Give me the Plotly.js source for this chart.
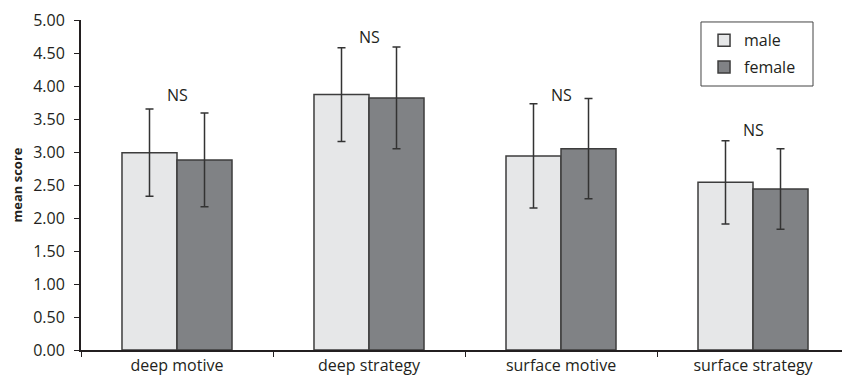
<!DOCTYPE html>
<html>
<head>
<meta charset="utf-8">
<script src="https://cdn.plot.ly/plotly-3.0.1.min.js"></script>
<style>html,body{margin:0;padding:0;background:#fff;}#chart{width:842px;height:375px;}</style>
</head>
<body>
<div id="chart"></div>
<script>
const categories = ["deep motive", "deep strategy", "surface motive", "surface strategy"];
const maleMeans = [2.99, 3.87, 2.94, 2.54];
const maleSD = [0.66, 0.71, 0.79, 0.63];
const femaleMeans = [2.88, 3.82, 3.05, 2.44];
const femaleSD = [0.71, 0.77, 0.76, 0.61];
const sigLabels = ["NS", "NS", "NS", "NS"];
const sigY = [3.86, 4.74, 3.87, 3.34];
const yTicks = [0, 0.5, 1, 1.5, 2, 2.5, 3, 3.5, 4, 4.5, 5];

const font = "'Open Sans', 'Noto Sans', sans-serif";
const dark = "#231f20";

const traces = [
  {
    type: "bar", name: "male", x: categories, y: maleMeans, legendgroup: "m",
    marker: {color: "#e6e7e8", line: {color: "#3d3d3d", width: 1.5}},
    error_y: {type: "data", array: maleSD, visible: true, color: "#333", thickness: 1.5, width: 4}
  },
  {
    type: "bar", name: "female", x: categories, y: femaleMeans, legendgroup: "f",
    marker: {color: "#808285", line: {color: "#3d3d3d", width: 1.5}},
    error_y: {type: "data", array: femaleSD, visible: true, color: "#333", thickness: 1.5, width: 4}
  }
];

const annotations = categories.map((c, i) => ({
  x: c, y: sigY[i], xref: "x", yref: "y", text: sigLabels[i], showarrow: false,
  font: {family: font, size: 16, color: dark}
}));

const layout = {
  width: 842, height: 375,
  margin: {l: 81, r: 0, t: 20, b: 25},
  paper_bgcolor: "#fff", plot_bgcolor: "#fff",
  barmode: "group", bargap: 0.427, bargroupgap: 0,
  font: {family: font, size: 16, color: dark},
  xaxis: {
    type: "category", range: [-0.5, 3.4635], showgrid: false, zeroline: false,
    showline: true, linecolor: dark, linewidth: 2,
    ticks: "outside", tickson: "boundaries", ticklen: 5, tickcolor: dark, tickwidth: 1,
    tickfont: {family: font, size: 16, color: dark}, fixedrange: true
  },
  yaxis: {
    range: [0, 5], tickvals: yTicks, tickformat: ".2f", showgrid: false, zeroline: false,
    showline: true, linecolor: dark, linewidth: 2,
    ticks: "outside", ticklen: 5, tickcolor: dark, tickwidth: 1,
    ticklabelstandoff: 6,
    tickfont: {family: font, size: 16, color: dark},
    title: {text: "<b>mean score</b>", font: {family: font, size: 13, color: dark}, standoff: 8}
  },
  legend: {
    x: 0.8187, y: 0.99, xanchor: "left", yanchor: "top",
    borderwidth: 0, bgcolor: "rgba(0,0,0,0)",
    traceorder: "grouped", tracegroupgap: 3,
    font: {family: font, size: 16, color: dark}
  },
  shapes: [{
    type: "rect", xref: "paper", yref: "paper",
    x0: 0.8147, x1: 0.9619, y0: 0.8, y1: 0.994,
    line: {color: "#444", width: 1}, fillcolor: "rgba(0,0,0,0)", layer: "above"
  }],
  showlegend: true,
  annotations: annotations
};

Plotly.newPlot("chart", traces, layout, {displayModeBar: false, staticPlot: true});
</script>
</body>
</html>
